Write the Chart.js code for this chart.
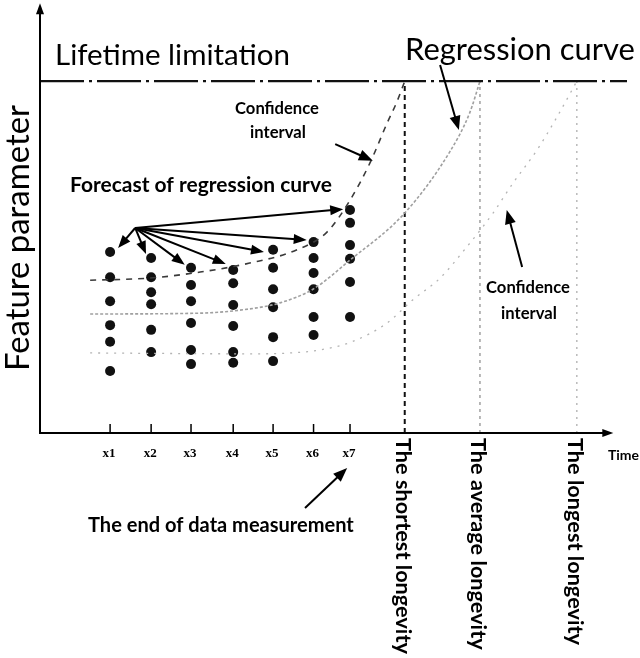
<!DOCTYPE html>
<html>
<head>
<meta charset="utf-8">
<script src="https://cdn.jsdelivr.net/npm/chart.js@4.4.0/dist/chart.umd.min.js"></script>
<style>
  html, body { margin: 0; padding: 0; background: #fff; }
  #wrap { width: 640px; height: 658px; }
</style>
</head>
<body>
<div id="wrap"><canvas id="chart" width="640" height="658"></canvas></div>
<script>
// measurement times x1..x7 (time axis runs 0..103)
const tickLabels = ['x1', 'x2', 'x3', 'x4', 'x5', 'x6', 'x7'];
const tickTimes = [12.3, 19.5, 26.5, 33.9, 40.9, 48.0, 54.4];

// feature values measured at each time
const col1 = [42.3, 36.4, 30.8, 25.2, 21.3, 14.5];
const col2 = [40.9, 36.4, 32.9, 30.1, 24.1, 18.9];
const col3 = [38.6, 34.6, 30.8, 25.7, 19.4, 16.1];
const col4 = [38.1, 35.0, 29.9, 25.0, 18.9, 16.4];
const col5 = [42.8, 38.6, 33.6, 29.4, 22.4, 16.8];
const col6 = [44.6, 40.9, 37.4, 33.6, 27.1, 22.9];
const col7 = [52.1, 49.1, 43.9, 40.7, 35.3, 27.1];
const columns = [col1, col2, col3, col4, col5, col6, col7];

const lifetimeLimit = 82.2;
const longevityLabels = ['The shortest longevity', 'The average longevity', 'The longest longevity'];
const longevityTimes = [64.0, 77.2, 94.2];

// regression curve and its confidence bounds
const regTime = [8.8, 28.1, 36.8, 42.1, 47.9, 54.4, 64.0, 71.9, 75.4, 77.2];
const regValue = [27.8, 28.0, 29.0, 30.4, 33.6, 40.4, 51.4, 65.7, 74.8, 82.2];
const upperTime = [8.8, 19.3, 28.1, 36.8, 45.1, 50.4, 54.4, 57.9, 60.9, 62.6, 64.0];
const upperValue = [35.7, 36.2, 37.6, 39.7, 42.8, 47.0, 54.4, 63.1, 72.4, 77.3, 82.2];
const lowerTime = [8.8, 36.8, 43.9, 49.1, 54.7, 60.9, 65.4, 70.2, 74.9, 79.5, 83.0, 87.2, 90.7, 94.2];
const lowerValue = [18.7, 18.5, 18.7, 19.4, 21.3, 25.7, 31.1, 36.2, 43.5, 51.4, 58.4, 66.1, 73.8, 82.2];

// annotation arrows (data units)
const forecastFrom = [16.7, 47.9];
const forecastTo = [[13.7, 43.2], [18.6, 41.8], [25.4, 39.3], [32.6, 39.5], [39.3, 42.3], [46.8, 45.1], [53.2, 52.3]];
const noteArrows = [
  [[51.8, 67.5], [58.4, 63.6]],   // upper confidence interval
  [[70.2, 86.0], [73.5, 70.8]],   // regression curve
  [[84.6, 38.8], [81.9, 52.1]],   // lower confidence interval
  [[46.5, -17.5], [53.9, -8.2]]   // end of data measurement
];

const FONT = 'Lato, "Noto Sans", sans-serif';

function pts(ts, vs) {
  return ts.map((t, i) => ({ x: t, y: vs[i] }));
}

const scatterPts = [];
columns.forEach((col, i) => {
  col.forEach(v => scatterPts.push({ x: tickTimes[i], y: v }));
});

function arrow(ctx, x1, y1, x2, y2, len, half, lw) {
  const a = Math.atan2(y2 - y1, x2 - x1);
  ctx.lineWidth = lw;
  ctx.beginPath();
  ctx.moveTo(x1, y1);
  ctx.lineTo(x2 - Math.cos(a) * len * 0.8, y2 - Math.sin(a) * len * 0.8);
  ctx.stroke();
  ctx.beginPath();
  ctx.moveTo(x2, y2);
  ctx.lineTo(x2 - Math.cos(a) * len - Math.sin(a) * half, y2 - Math.sin(a) * len + Math.cos(a) * half);
  ctx.lineTo(x2 - Math.cos(a) * len + Math.sin(a) * half, y2 - Math.sin(a) * len - Math.cos(a) * half);
  ctx.closePath();
  ctx.fill();
}

// pick a font size so the text spans the given width
function fit(ctx, text, weight, width) {
  ctx.font = weight + ' 100px ' + FONT;
  const w = ctx.measureText(text).width;
  const size = 100 * width / w;
  ctx.font = weight + ' ' + size.toFixed(2) + 'px ' + FONT;
  return size;
}

const sketch = {
  id: 'sketch',
  afterDatasetsDraw(chart) {
    const ctx = chart.ctx;
    const xs = chart.scales.x, ys = chart.scales.y;
    const X = v => xs.getPixelForValue(v), Y = v => ys.getPixelForValue(v);
    ctx.save();
    ctx.fillStyle = '#000';
    ctx.strokeStyle = '#000';
    ctx.setLineDash([]);

    // axes with arrow heads
    arrow(ctx, X(0), Y(0) + 1, X(0), Y(100.4), 11, 4, 2);
    arrow(ctx, X(0) - 1, Y(0), X(100.6), Y(0), 11, 4, 2);

    // ticks and their labels
    ctx.lineWidth = 1.5;
    ctx.font = 'bold 13px "Liberation Serif", serif';
    ctx.textAlign = 'center';
    ctx.textBaseline = 'alphabetic';
    tickTimes.forEach((t, i) => {
      ctx.beginPath();
      ctx.moveTo(X(t), Y(0));
      ctx.lineTo(X(t), Y(0) - 9);
      ctx.stroke();
      ctx.fillText(tickLabels[i], X(t) - 1, Y(0) + 24);
    });

    // arrows
    forecastTo.forEach(p => {
      arrow(ctx, X(forecastFrom[0]), Y(forecastFrom[1]), X(p[0]), Y(p[1]), 13, 5, 2);
    });
    noteArrows.forEach(a => {
      arrow(ctx, X(a[0][0]), Y(a[0][1]), X(a[1][0]), Y(a[1][1]), 14, 5.5, 2);
    });

    // text
    ctx.textAlign = 'left';
    fit(ctx, 'Lifetime limitation', 'normal', 235);
    ctx.fillText('Lifetime limitation', 55, 65);
    fit(ctx, 'Regression curve', 'normal', 230);
    ctx.fillText('Regression curve', 405, 60);
    fit(ctx, 'Forecast of regression curve', 'bold', 262);
    ctx.fillText('Forecast of regression curve', 70, 192);
    fit(ctx, 'The end of data measurement', 'bold', 266);
    ctx.fillText('The end of data measurement', 88, 532);
    ctx.font = 'bold 14px ' + FONT;
    ctx.textAlign = 'right';
    ctx.fillText('Time', 639, 460);

    ctx.textAlign = 'center';
    fit(ctx, 'Confidence', 'bold', 84);
    ctx.fillText('Confidence', 277, 114);
    ctx.fillText('interval', 278, 138);
    ctx.fillText('Confidence', 528, 293);
    ctx.fillText('interval', 529, 319);

    // rotated labels
    ctx.save();
    ctx.translate(29, 238);
    ctx.rotate(-Math.PI / 2);
    fit(ctx, 'Feature parameter', 'normal', 266);
    ctx.fillText('Feature parameter', 0, 0);
    ctx.restore();

    fit(ctx, longevityLabels[0], 'bold', 216);
    const sz = ctx.font;
    longevityLabels.forEach((lab, i) => {
      ctx.save();
      ctx.translate(X(longevityTimes[i]) - 2, Y(0) + 5);
      ctx.rotate(Math.PI / 2);
      ctx.font = sz;
      ctx.textAlign = 'left';
      ctx.textBaseline = 'middle';
      ctx.fillText(lab, 0, 0);
      ctx.restore();
    });
    ctx.restore();
  }
};

new Chart(document.getElementById('chart'), {
  type: 'scatter',
  data: {
    datasets: [
      {
        type: 'line', label: 'Lifetime limitation',
        data: [{ x: 0, y: lifetimeLimit }, { x: 103, y: lifetimeLimit }],
        borderColor: '#111', borderWidth: 2.2, borderDash: [44, 5, 3, 5], pointRadius: 0
      },
      {
        type: 'line', label: 'Upper confidence',
        data: pts(upperTime, upperValue),
        borderColor: '#3a3a3a', borderWidth: 1.6, borderDash: [6, 6], pointRadius: 0,
        cubicInterpolationMode: 'monotone'
      },
      {
        type: 'line', label: 'Regression curve',
        data: pts(regTime, regValue),
        borderColor: '#a0a0a0', borderWidth: 1.6, borderDash: [3, 2], pointRadius: 0,
        cubicInterpolationMode: 'monotone'
      },
      {
        type: 'line', label: 'Lower confidence',
        data: pts(lowerTime, lowerValue),
        borderColor: '#b4b4b4', borderWidth: 1.3, borderDash: [2, 6], pointRadius: 0,
        cubicInterpolationMode: 'monotone'
      },
      {
        type: 'line', label: longevityLabels[0],
        data: [{ x: longevityTimes[0], y: 0 }, { x: longevityTimes[0], y: lifetimeLimit }],
        borderColor: '#111', borderWidth: 2, borderDash: [5, 4], pointRadius: 0
      },
      {
        type: 'line', label: longevityLabels[1],
        data: [{ x: longevityTimes[1], y: 0 }, { x: longevityTimes[1], y: lifetimeLimit }],
        borderColor: '#888', borderWidth: 1.2, borderDash: [3, 4], pointRadius: 0
      },
      {
        type: 'line', label: longevityLabels[2],
        data: [{ x: longevityTimes[2], y: 0 }, { x: longevityTimes[2], y: lifetimeLimit }],
        borderColor: '#a8a8a8', borderWidth: 1.2, borderDash: [2, 5], pointRadius: 0
      },
      {
        type: 'scatter', label: 'Measurements',
        data: scatterPts,
        backgroundColor: '#111', borderColor: '#111', borderWidth: 0, pointRadius: 5
      }
    ]
  },
  options: {
    responsive: false,
    animation: false,
    devicePixelRatio: 1,
    layout: { padding: { left: 40, right: 13, top: 5, bottom: 225 } },
    scales: {
      x: { type: 'linear', min: 0, max: 103, display: false },
      y: { type: 'linear', min: 0, max: 100, display: false }
    },
    plugins: { legend: { display: false }, tooltip: { enabled: false } }
  },
  plugins: [sketch]
});
</script>
</body>
</html>
